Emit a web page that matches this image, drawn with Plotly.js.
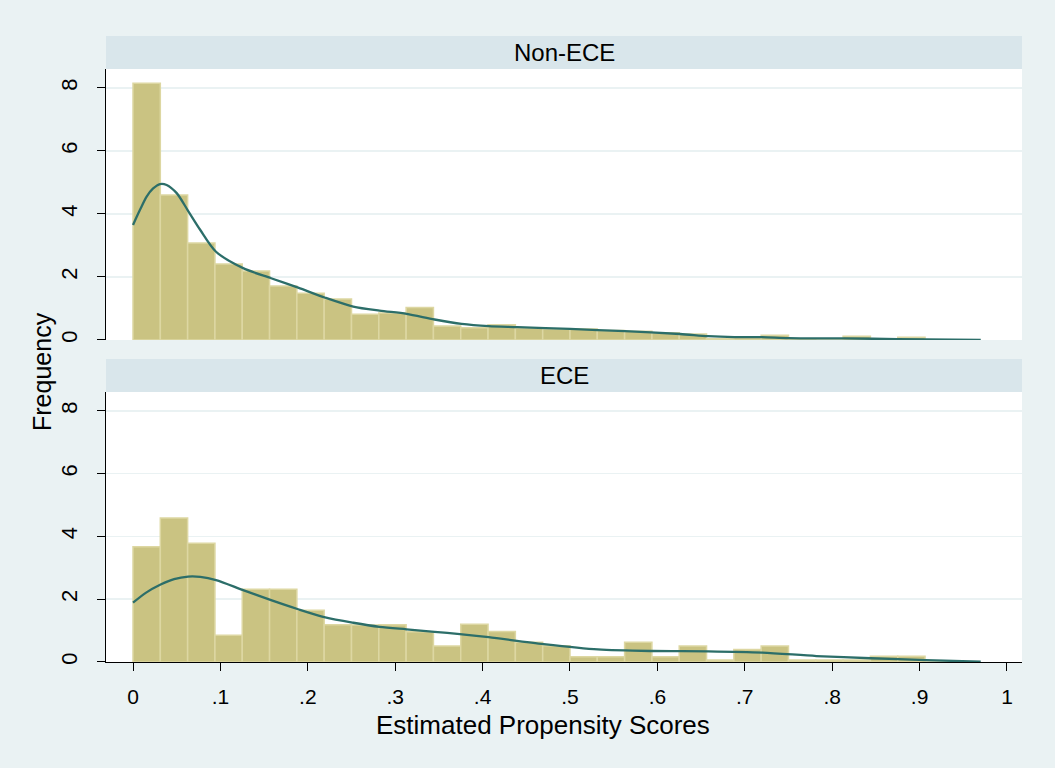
<!DOCTYPE html>
<html>
<head>
<meta charset="utf-8">
<script src="https://cdn.plot.ly/plotly-3.0.1.min.js"></script>
<style>html,body{margin:0;padding:0;background:#EAF2F3;}#chart{width:1055px;height:768px;}</style>
</head>
<body>
<div id="chart"></div>
<script>
// Histogram bins of width 1/32 starting at 0
const binWidth = 0.03125;
const panelLabels = ["Non-ECE", "ECE"];
const xTickVals = [0, 0.1, 0.2, 0.3, 0.4, 0.5, 0.6, 0.7, 0.8, 0.9, 1];
const xTickText = ["0", ".1", ".2", ".3", ".4", ".5", ".6", ".7", ".8", ".9", "1"];
const yTickVals = [0, 2, 4, 6, 8];

const nonEceFreq = [8.15, 4.6, 3.08, 2.41, 2.19, 1.71, 1.48, 1.30, 0.82, 0.86, 1.03, 0.44, 0.39, 0.48, 0.38, 0.35,
                    0.35, 0.30, 0.28, 0.23, 0.19, 0.04, 0.07, 0.15, 0.04, 0, 0.12, 0.04, 0.09, 0, 0];
const eceFreq = [3.67, 4.59, 3.78, 0.85, 2.32, 2.32, 1.65, 1.19, 1.18, 1.19, 0.96, 0.51, 1.20, 0.97, 0.63, 0.52,
                 0.17, 0.17, 0.63, 0.17, 0.51, 0.06, 0.40, 0.51, 0.06, 0.06, 0.06, 0.18, 0.18, 0, 0];

const nonEceDensX = [0, 0.008, 0.0156, 0.023, 0.031, 0.0385, 0.05, 0.063, 0.077, 0.095, 0.126, 0.158, 0.189, 0.220,
                     0.252, 0.282, 0.313, 0.345, 0.376, 0.407, 0.44, 0.50, 0.563, 0.626, 0.658, 0.688, 0.72, 0.75,
                     0.813, 0.875, 0.97];
const nonEceDensY = [3.65, 4.13, 4.55, 4.81, 4.95, 4.92, 4.66, 4.10, 3.49, 2.80, 2.28, 1.96, 1.66, 1.34,
                     1.06, 0.93, 0.83, 0.65, 0.51, 0.44, 0.41, 0.35, 0.28, 0.19, 0.12, 0.09, 0.09, 0.06,
                     0.05, 0.03, 0.0];
const eceDensX = [0, 0.015, 0.031, 0.047, 0.063, 0.077, 0.095, 0.126, 0.158, 0.189, 0.220, 0.252, 0.282, 0.313,
                  0.345, 0.374, 0.407, 0.47, 0.532, 0.594, 0.658, 0.72, 0.782, 0.844, 0.907, 0.97];
const eceDensY = [1.89, 2.21, 2.46, 2.64, 2.72, 2.71, 2.61, 2.29, 1.97, 1.68, 1.42, 1.25, 1.12, 1.04,
                  0.96, 0.89, 0.79, 0.57, 0.40, 0.35, 0.34, 0.30, 0.19, 0.12, 0.06, 0.01];

const binCenters = arr => arr.map((_, i) => (i + 0.5) * binWidth);

const barStyle = {color: '#CAC382', line: {color: '#DDD7A2', width: 1.5}};
const lineStyle = {color: '#2C6E69', width: 2.3, shape: 'spline', smoothing: 0.8};
const FONT = '"Liberation Sans", Arial, sans-serif';

const traces = [
  {type: 'bar', x: binCenters(nonEceFreq), y: nonEceFreq, width: binWidth, marker: barStyle, xaxis: 'x2', yaxis: 'y2', hoverinfo: 'skip'},
  {type: 'scatter', mode: 'lines', x: nonEceDensX, y: nonEceDensY, line: lineStyle, xaxis: 'x2', yaxis: 'y2'},
  {type: 'bar', x: binCenters(eceFreq), y: eceFreq, width: binWidth, marker: barStyle, xaxis: 'x', yaxis: 'y', hoverinfo: 'skip'},
  {type: 'scatter', mode: 'lines', x: eceDensX, y: eceDensY, line: lineStyle, xaxis: 'x', yaxis: 'y'}
];

const xr = [-0.0309, 1.0172];
const yr = [0, 8.6];
const gridColor = '#EAF2F3';

const yaxisCommon = {
  range: yr, tickvals: yTickVals, showgrid: true, gridcolor: gridColor, gridwidth: 1.5,
  zeroline: false, showline: true, linecolor: '#000', linewidth: 1,
  ticks: 'outside', ticklen: 8, tickcolor: '#000', tickwidth: 1,
  tickangle: -90, ticklabelstandoff: 11,
  tickfont: {family: FONT, size: 22, color: '#000'}, fixedrange: true
};

const topDom = [0.5144, 0.9473];
const botDom = [0, 0.4313];

const layout = {
  width: 1055, height: 768,
  margin: {l: 106, r: 33, t: 36, b: 106},
  paper_bgcolor: '#EAF2F3', plot_bgcolor: '#FFFFFF',
  showlegend: false, bargap: 0,
  font: {family: FONT, color: '#000'},
  xaxis: {
    domain: [0, 1], anchor: 'y', range: xr, tickvals: xTickVals, ticktext: xTickText,
    showgrid: false, zeroline: false, showline: true, linecolor: '#000', linewidth: 1,
    ticks: 'outside', ticklen: 8, tickcolor: '#000', tickwidth: 1, ticklabelstandoff: 8,
    tickfont: {family: FONT, size: 21, color: '#000'},
    fixedrange: true
  },
  xaxis2: {
    domain: [0, 1], anchor: 'y2', range: xr, showticklabels: false, ticks: '',
    showgrid: false, zeroline: false, showline: false, fixedrange: true
  },
  yaxis: Object.assign({}, yaxisCommon, {domain: botDom, anchor: 'x'}),
  yaxis2: Object.assign({}, yaxisCommon, {domain: topDom, anchor: 'x2'}),
  shapes: [
    {type: 'rect', xref: 'paper', yref: 'paper', x0: 0, x1: 1, y0: 0.9473, y1: 1.0, fillcolor: '#D9E6EB', line: {width: 0}, layer: 'below'},
    {type: 'rect', xref: 'paper', yref: 'paper', x0: 0, x1: 1, y0: 0.4313, y1: 0.4840, fillcolor: '#D9E6EB', line: {width: 0}, layer: 'below'}
  ],
  annotations: [
    {text: panelLabels[0], xref: 'paper', yref: 'paper', x: 0.5, y: (0.9473 + 1.0) / 2, showarrow: false,
     xanchor: 'center', yanchor: 'middle', font: {family: FONT, size: 24, color: '#000'}},
    {text: panelLabels[1], xref: 'paper', yref: 'paper', x: 0.5, y: (0.4313 + 0.4840) / 2, showarrow: false,
     xanchor: 'center', yanchor: 'middle', font: {family: FONT, size: 24, color: '#000'}},
    {text: 'Frequency', xref: 'paper', yref: 'paper', x: -0.0699, xanchor: 'center', y: (662 - 371) / 626, yanchor: 'middle',
     textangle: -90, showarrow: false, font: {family: FONT, size: 25, color: '#000'}},
    {text: 'Estimated Propensity Scores', xref: 'paper', yref: 'paper', x: (543 - 106) / 916, xanchor: 'center',
     y: (662 - 725) / 626, yanchor: 'middle', showarrow: false, font: {family: FONT, size: 26, color: '#000'}}
  ]
};

Plotly.newPlot('chart', traces, layout, {staticPlot: true, displayModeBar: false});
</script>
</body>
</html>
